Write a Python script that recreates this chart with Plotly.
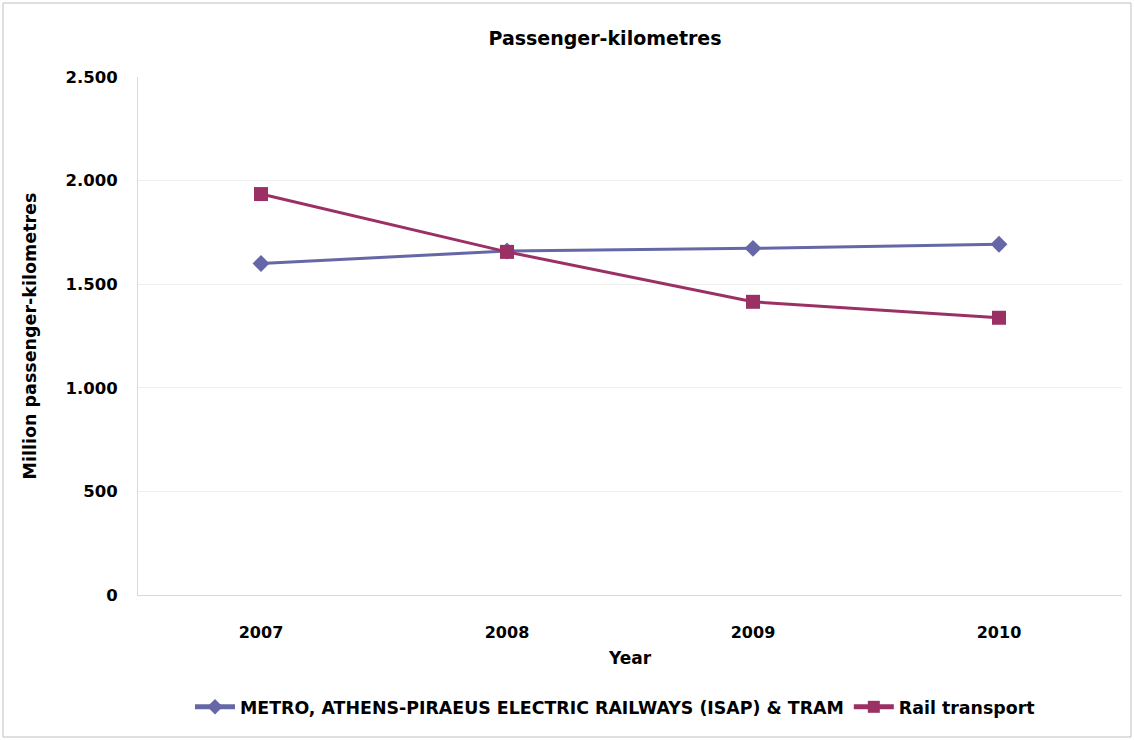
import plotly.graph_objects as go

years = ["2007", "2008", "2009", "2010"]
metro = [1600, 1660, 1673, 1693]
rail = [1935, 1656, 1415, 1338]
metro_name = "METRO, ATHENS-PIRAEUS ELECTRIC RAILWAYS (ISAP) & TRAM"
rail_name = "Rail transport"

FONT = "DejaVu Sans"
fig = go.Figure()
fig.add_trace(go.Scatter(x=years, y=metro, name=metro_name, mode="lines+markers",
                         line=dict(color="#6667A6", width=3),
                         marker=dict(symbol="diamond", size=13, color="#6667A6")))
fig.add_trace(go.Scatter(x=years, y=rail, name=rail_name, mode="lines+markers",
                         line=dict(color="#9B3064", width=3),
                         marker=dict(symbol="square", size=14, color="#9B3064")))

L, R, T, B = 138, 12, 77, 145
W, H = 1134, 740
pw, ph = W - L - R, H - T - B

fig.update_layout(
    width=W, height=H,
    margin=dict(l=L, r=R, t=T, b=B),
    paper_bgcolor="white", plot_bgcolor="white",
    separators=",.",
    font=dict(family=FONT, color="#000000", size=15),
    title=dict(text="<b>Passenger-kilometres</b>", x=605 / W, xanchor="center",
               y=1 - 38 / H, yanchor="middle", font=dict(size=19, family=FONT)),
    xaxis=dict(type="category", range=[-0.5, 3.5], showgrid=False,
               showline=True, linecolor="#D9D9D9", linewidth=1, ticks="",
               tickfont=dict(size=16, family=FONT, weight="bold"),
               ticklabelstandoff=23,
               title=dict(text="<b>Year</b>", standoff=10, font=dict(size=17, family=FONT))),
    yaxis=dict(range=[0, 2500], dtick=500, tickformat=",d",
               showgrid=True, gridcolor="#EFEFEF", gridwidth=1,
               showline=True, linecolor="#D9D9D9", linewidth=1, ticks="",
               zeroline=False,
               tickfont=dict(size=16.5, family=FONT, weight="bold"),
               ticklabelstandoff=16,
               title=dict(text="<b>Million passenger-kilometres</b>", standoff=24,
                          font=dict(size=17.5, family=FONT))),
    legend=dict(orientation="h", x=(190 - L) / pw, xanchor="left",
                y=-(707 - (T + ph)) / ph, yanchor="middle",
                font=dict(size=17.4, family=FONT, weight="bold"),
                itemwidth=40, tracegroupgap=0, itemsizing="constant"),
)

fig.add_shape(type="rect", xref="paper", yref="paper",
              x0=(3 - L) / pw, x1=(1131 - L) / pw,
              y0=(T + ph - 737) / ph, y1=(T + ph - 3) / ph,
              line=dict(color="#BFBFBF", width=1), fillcolor="rgba(0,0,0,0)",
              layer="below")

fig.write_html("out.html", config={"displayModeBar": False},
               post_script="document.body.style.margin='0';")
